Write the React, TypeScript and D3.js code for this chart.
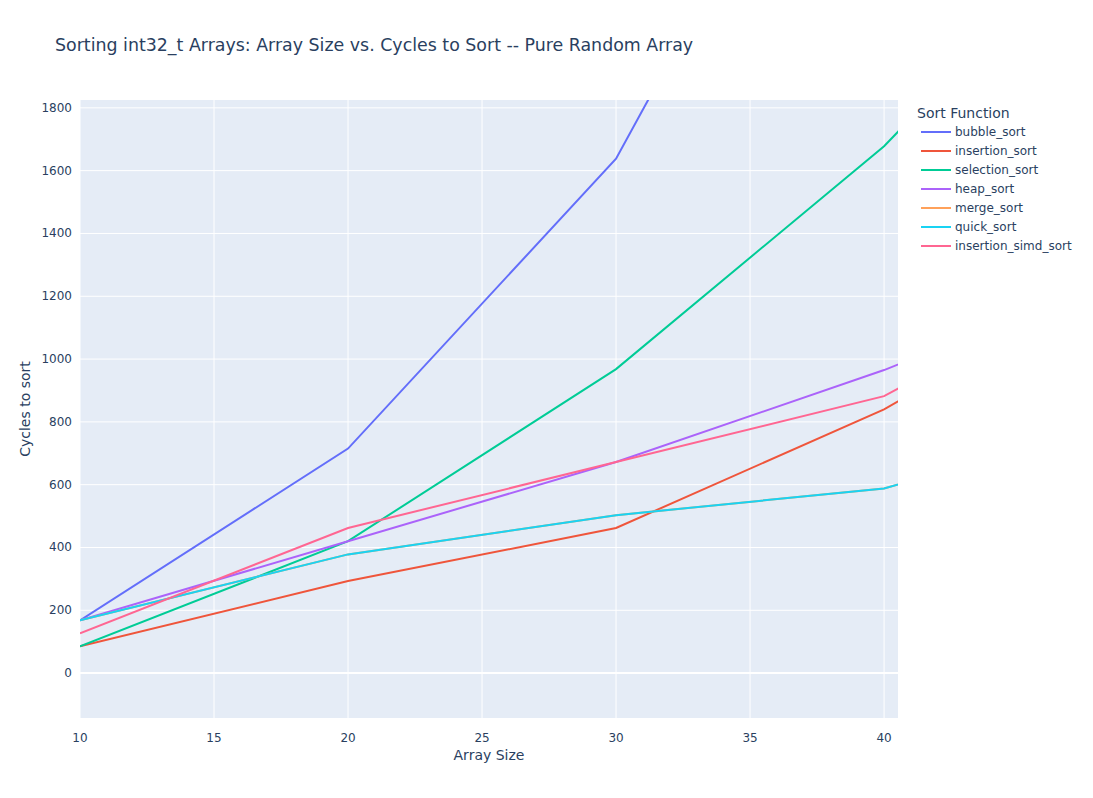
import React, { useEffect, useRef } from "react";
import * as d3 from "d3";

const arraySizes = [10, 20, 30, 40, 50];
const bubbleSort = [168, 715, 1638, 3200, 5100];
const insertionSort = [85, 293, 462, 840, 1320];
const selectionSort = [85, 420, 968, 1678, 2560];
const heapSort = [168, 420, 672, 965, 1305];
const mergeSort = [168, 378, 503, 588, 828];
const quickSort = [168, 378, 503, 588, 828];
const insertionSimdSort = [127, 462, 672, 882, 1342];

const seriesNames = [
	"bubble_sort",
	"insertion_sort",
	"selection_sort",
	"heap_sort",
	"merge_sort",
	"quick_sort",
	"insertion_simd_sort",
];
const seriesValues = [bubbleSort, insertionSort, selectionSort, heapSort, mergeSort, quickSort, insertionSimdSort];
const colors = ["#636efa", "#EF553B", "#00cc96", "#ab63fa", "#FFA15A", "#19d3f3", "#FF6692"];

const xTicks = [10, 15, 20, 25, 30, 35, 40];
const yTicks = [0, 200, 400, 600, 800, 1000, 1200, 1400, 1600, 1800];

const App: React.FC = () => {
	const ref = useRef<SVGSVGElement>(null);

	useEffect(() => {
		const width = 1093;
		const height = 798;
		const margin = { top: 100, right: 195, bottom: 80, left: 80 };
		const font = "'DejaVu Sans', Verdana, sans-serif";
		const textColor = "#2a3f5f";

		const svg = d3.select(ref.current);
		svg.selectAll("*").remove();

		const x = d3.scaleLinear().domain([10, 40.52]).range([margin.left, width - margin.right]);
		const y = d3.scaleLinear().domain([-143, 1825]).range([height - margin.bottom, margin.top]);

		svg.append("rect").attr("width", width).attr("height", height).attr("fill", "white");

		svg.append("rect")
			.attr("x", margin.left)
			.attr("y", margin.top)
			.attr("width", width - margin.left - margin.right)
			.attr("height", height - margin.top - margin.bottom)
			.attr("fill", "#E5ECF6");

		// grid
		svg.append("g")
			.selectAll("line")
			.data(xTicks)
			.enter()
			.append("line")
			.attr("x1", (d) => x(d))
			.attr("x2", (d) => x(d))
			.attr("y1", margin.top)
			.attr("y2", height - margin.bottom)
			.attr("stroke", "white")
			.attr("stroke-width", 1);

		svg.append("g")
			.selectAll("line")
			.data(yTicks)
			.enter()
			.append("line")
			.attr("x1", margin.left)
			.attr("x2", width - margin.right)
			.attr("y1", (d) => y(d))
			.attr("y2", (d) => y(d))
			.attr("stroke", "white")
			.attr("stroke-width", (d) => (d === 0 ? 2 : 1));

		// tick labels
		svg.append("g")
			.selectAll("text")
			.data(xTicks)
			.enter()
			.append("text")
			.attr("x", (d) => x(d))
			.attr("y", height - margin.bottom + 24)
			.attr("text-anchor", "middle")
			.style("font-family", font)
			.style("font-size", "12px")
			.attr("fill", textColor)
			.text((d) => d);

		svg.append("g")
			.selectAll("text")
			.data(yTicks)
			.enter()
			.append("text")
			.attr("x", margin.left - 8)
			.attr("y", (d) => y(d) + 4)
			.attr("text-anchor", "end")
			.style("font-family", font)
			.style("font-size", "12px")
			.attr("fill", textColor)
			.text((d) => d);

		// lines
		svg.append("clipPath")
			.attr("id", "plot-clip")
			.append("rect")
			.attr("x", margin.left)
			.attr("y", margin.top)
			.attr("width", width - margin.left - margin.right)
			.attr("height", height - margin.top - margin.bottom);

		const line = d3
			.line<number>()
			.x((_, i) => x(arraySizes[i]))
			.y((d) => y(d));

		svg.append("g")
			.attr("clip-path", "url(#plot-clip)")
			.selectAll("path")
			.data(seriesValues)
			.enter()
			.append("path")
			.attr("d", (d) => line(d))
			.attr("fill", "none")
			.attr("stroke", (_, i) => colors[i])
			.attr("stroke-width", 2);

		// titles
		svg.append("text")
			.attr("x", 55)
			.attr("y", 51)
			.style("font-family", font)
			.style("font-size", "17.4px")
			.attr("fill", textColor)
			.text("Sorting int32_t Arrays: Array Size vs. Cycles to Sort -- Pure Random Array");

		svg.append("text")
			.attr("x", (margin.left + width - margin.right) / 2)
			.attr("y", 760)
			.attr("text-anchor", "middle")
			.style("font-family", font)
			.style("font-size", "14px")
			.attr("fill", textColor)
			.text("Array Size");

		svg.append("text")
			.attr("transform", `translate(30, ${(margin.top + height - margin.bottom) / 2}) rotate(-90)`)
			.attr("text-anchor", "middle")
			.style("font-family", font)
			.style("font-size", "14px")
			.attr("fill", textColor)
			.text("Cycles to sort");

		// legend
		const legend = svg.append("g").attr("transform", "translate(917, 0)");
		legend.append("text")
			.attr("x", 0)
			.attr("y", 118)
			.style("font-family", font)
			.style("font-size", "14px")
			.attr("fill", textColor)
			.text("Sort Function");

		const items = legend
			.selectAll("g.item")
			.data(seriesNames)
			.enter()
			.append("g")
			.attr("class", "item")
			.attr("transform", (_, i) => `translate(0, ${132 + i * 19})`);

		items.append("line")
			.attr("x1", 4)
			.attr("x2", 34)
			.attr("stroke", (_, i) => colors[i])
			.attr("stroke-width", 2);

		items.append("text")
			.attr("x", 38)
			.attr("y", 4)
			.style("font-family", font)
			.style("font-size", "12px")
			.attr("fill", textColor)
			.text((d) => d);
	}, []);

	return <svg ref={ref} width={1093} height={798} style={{ position: "absolute", left: 0, top: 0 }} />;
};

export default App;
